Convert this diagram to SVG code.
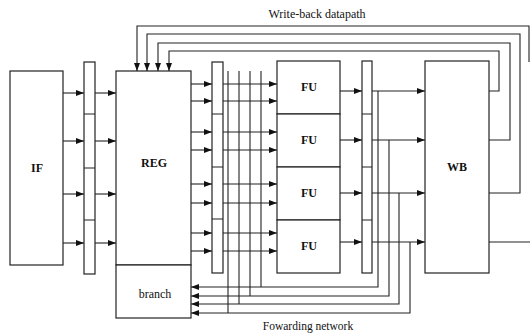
<svg xmlns="http://www.w3.org/2000/svg" width="530" height="335" viewBox="0 0 530 335">
<style>
.b{fill:#fff;stroke:#222;stroke-width:1.2}
.l{fill:none;stroke:#222;stroke-width:1.1}
.a{fill:none;stroke:#222;stroke-width:1.1;marker-end:url(#ah)}
.t{font-family:"Liberation Serif","Times New Roman",serif;font-size:12px;fill:#111;text-anchor:middle}
.bt{font-weight:bold}
</style>
<defs>
<marker id="ah" markerUnits="userSpaceOnUse" markerWidth="8" markerHeight="6" refX="8" refY="3" orient="auto">
<path d="M0,0 L8,3 L0,6 z" fill="#111"/>
</marker>
</defs>
<rect width="530" height="335" fill="#fff"/>
<g id="connectors">
<path class="a" d="M63,93 H84"/><path class="a" d="M95,93 H116"/>
<path class="a" d="M63,141 H84"/><path class="a" d="M95,141 H116"/>
<path class="a" d="M63,194 H84"/><path class="a" d="M95,194 H116"/>
<path class="a" d="M63,243 H84"/><path class="a" d="M95,243 H116"/>
<path class="a" d="M191,84 H212"/><path class="a" d="M223,84 H277"/>
<path class="a" d="M191,101 H212"/><path class="a" d="M223,101 H277"/>
<path class="a" d="M191,132 H212"/><path class="a" d="M223,132 H277"/>
<path class="a" d="M191,150 H212"/><path class="a" d="M223,150 H277"/>
<path class="a" d="M191,184 H212"/><path class="a" d="M223,184 H277"/>
<path class="a" d="M191,203 H212"/><path class="a" d="M223,203 H277"/>
<path class="a" d="M191,233 H212"/><path class="a" d="M223,233 H277"/>
<path class="a" d="M191,251 H212"/><path class="a" d="M223,251 H277"/>
<path class="a" d="M340,91 H362"/><path class="a" d="M372,91 H425"/>
<path class="a" d="M340,140 H362"/><path class="a" d="M372,140 H425"/>
<path class="a" d="M340,193 H362"/><path class="a" d="M372,193 H425"/>
<path class="a" d="M340,242 H362"/><path class="a" d="M372,242 H425"/>
<path class="a" d="M378,91 V287 H191"/>
<path class="a" d="M389,140 V296 H191"/>
<path class="a" d="M399,193 V304 H191"/>
<path class="a" d="M410,242 V313 H191"/>
<path class="l" d="M261,71 V287"/>
<path class="l" d="M250,71 V296"/>
<path class="l" d="M239,71 V304"/>
<path class="l" d="M228,71 V313"/>
<path class="a" d="M489,91 H499 V51 H169 V71"/>
<path class="a" d="M489,140 H510 V43 H158 V71"/>
<path class="a" d="M489,193 H520 V34 H147 V71"/>
<path class="a" d="M529,62 V26 H137 V71"/>
<path class="l" d="M489,242 H530"/>
</g>
<g id="IF"><rect class="b" x="10" y="71" width="53" height="194"/><text class="t bt" x="37" y="172">IF</text></g>
<g id="latch1">
<rect class="b" x="84" y="62" width="11" height="212"/>
<path class="l" d="M84,114 H95 M84,168 H95 M84,220 H95"/>
</g>
<g id="REG"><rect class="b" x="116" y="71" width="75" height="194"/><text class="t bt" x="154" y="167">REG</text></g>
<g id="branch"><rect class="b" x="116" y="265" width="75" height="53"/><text class="t" x="155" y="298">branch</text></g>
<g id="latch2">
<rect class="b" x="212" y="62" width="11" height="211"/>
<path class="l" d="M212,114 H223 M212,167 H223 M212,219 H223"/>
</g>
<g id="FU1"><rect class="b" x="277" y="61" width="63" height="53"/><text class="t bt" x="309" y="91">FU</text></g>
<g id="FU2"><rect class="b" x="277" y="114" width="63" height="53"/><text class="t bt" x="309" y="144">FU</text></g>
<g id="FU3"><rect class="b" x="277" y="167" width="63" height="53"/><text class="t bt" x="309" y="197">FU</text></g>
<g id="FU4"><rect class="b" x="277" y="220" width="63" height="53"/><text class="t bt" x="309" y="250">FU</text></g>
<g id="latch3">
<rect class="b" x="362" y="61" width="10" height="212"/>
<path class="l" d="M362,114 H372 M362,167 H372 M362,220 H372"/>
</g>
<g id="WB"><rect class="b" x="425" y="61" width="64" height="212"/><text class="t bt" x="457" y="171">WB</text></g>
<g id="labels">
<text class="t" x="317" y="18">Write-back datapath</text>
<text class="t" x="308" y="330" style="font-size:11.5px">Fowarding network</text>
</g>
</svg>
